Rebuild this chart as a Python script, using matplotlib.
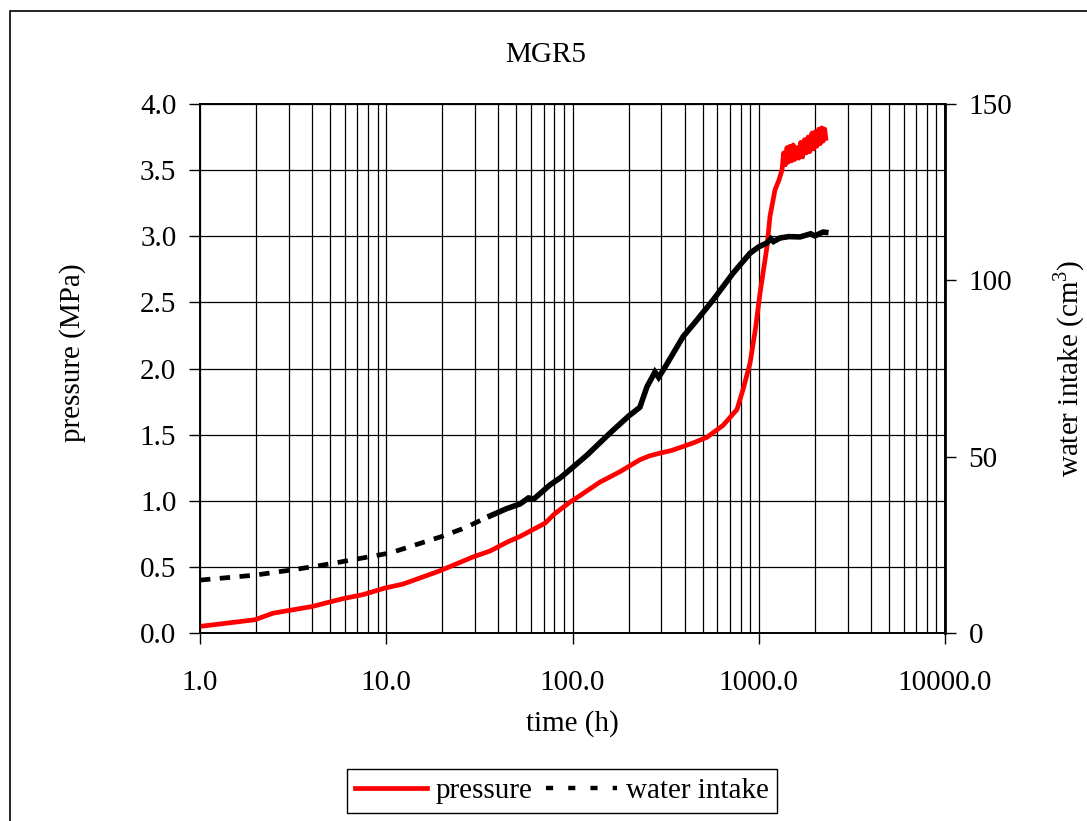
import matplotlib
matplotlib.use("Agg")
import matplotlib.pyplot as plt
from matplotlib.patches import Rectangle
from matplotlib.lines import Line2D
import numpy as np

plt.rcParams['font.family'] = ['Liberation Serif', 'DejaVu Serif']
plt.rcParams['mathtext.fontset'] = 'custom'
plt.rcParams['mathtext.rm'] = 'Liberation Serif'

# pressure record, time in hours
t_p = [1.0, 1.97, 2.47, 3.99, 5.86, 7.5, 9.85, 12.3, 19.4, 29.2, 36.1, 45.0, 52.3,
       61.0, 71.2, 80.0, 97.0, 110, 140, 180, 230, 260, 295, 340, 392, 450, 527, 643,
       764, 823, 898, 960, 1016, 1107, 1149, 1222, 1280, 1333, 1360, 1390, 1418,
       1440, 1470, 1500, 1530, 1560, 1600, 1640, 1680, 1720, 1760, 1800, 1840,
       1880, 1930, 1970, 2010, 2050, 2100, 2140, 2180, 2220, 2260, 2290]
p_mpa = [0.05, 0.10, 0.15, 0.20, 0.26, 0.29, 0.34, 0.37, 0.47, 0.575, 0.62, 0.69, 0.73,
         0.78, 0.83, 0.90, 0.99, 1.04, 1.14, 1.22, 1.31, 1.34, 1.36, 1.38, 1.41, 1.44,
         1.48, 1.57, 1.69, 1.84, 2.04, 2.30, 2.57, 2.92, 3.15, 3.35, 3.42, 3.50, 3.63,
         3.54, 3.67, 3.56, 3.68, 3.57, 3.69, 3.58, 3.67, 3.59, 3.71, 3.60, 3.73, 3.63,
         3.75, 3.64, 3.78, 3.66, 3.79, 3.68, 3.81, 3.70, 3.82, 3.72, 3.81, 3.74]

# water intake record
t_w = [1.0, 1.97, 3.32, 4.99, 7.5, 10.5, 19.4, 25.5, 29.2, 36.1, 44.0, 52.3, 58.0,
       62.0, 75.7, 86.0, 99.4, 120, 159, 200, 230, 251, 277, 290, 314, 392, 470,
       568, 727, 898, 1000, 1107, 1160, 1200, 1300, 1450, 1665, 1900, 2000, 2213, 2290]
w_cm3 = [15.0, 16.4, 18.1, 19.6, 21.3, 22.7, 27.2, 29.5, 30.9, 33.2, 35.2, 36.6, 38.3,
         38.0, 42.0, 44.0, 46.8, 50.5, 56.7, 61.5, 64.0, 69.8, 74.0, 72.5, 75.4, 84.0,
         89.0, 94.4, 102.0, 107.7, 109.5, 110.6, 111.8, 111.0, 112.0, 112.4, 112.3,
         113.2, 112.6, 113.7, 113.6]

x_ticks = [1, 10, 100, 1000, 10000]
x_labels = ['1.0', '10.0', '100.0', '1000.0', '10000.0']
p_ticks = [0.0, 0.5, 1.0, 1.5, 2.0, 2.5, 3.0, 3.5, 4.0]
w_ticks = [0, 50, 100, 150]

W, H = 1087, 821
fig = plt.figure(figsize=(W / 100, H / 100), dpi=100)
fig.patches.append(Rectangle((10 / W, -0.1), 1.2, 1 - 11 / H + 0.1,
                             transform=fig.transFigure, fill=False,
                             edgecolor='black', linewidth=1.2))

ax = fig.add_axes([200 / W, 1 - 633 / H, 745 / W, 529 / H])
ax2 = ax.twinx()

fs = 21
ax.set_xscale('log')
ax.set_xlim(1, 10000)
ax.set_ylim(0, 4)
ax.set_xticks(x_ticks)
ax.set_xticklabels(x_labels)
ax.set_yticks(p_ticks)
ax.set_yticklabels([f'{v:.1f}' for v in p_ticks])
ax.tick_params(axis='x', which='major', direction='out', length=8, width=1,
               labelsize=fs, pad=19)
ax.tick_params(axis='x', which='minor', length=0)
ax.tick_params(axis='y', direction='out', length=8, width=1, labelsize=fs, pad=9)
ax.grid(which='both', axis='x', color='black', linewidth=0.9)
ax.grid(which='major', axis='y', color='black', linewidth=0.9)
ax.set_axisbelow(True)

ax2.set_ylim(0, 150)
ax2.set_yticks(w_ticks)
ax2.tick_params(axis='y', direction='out', length=8, width=1, labelsize=fs, pad=9)

for a in (ax, ax2):
    for s in a.spines.values():
        s.set_linewidth(1.2)
ax2.spines['right'].set_linewidth(2)

l_p, = ax.plot(t_p, p_mpa, color='#ff0000', linewidth=3.4, solid_joinstyle='round')

# dashes read well on the sparse early stretch, later part is dense
t_w = np.array(t_w)
w_cm3 = np.array(w_cm3)
early = t_w <= 36.1
ax2.plot(t_w[early], w_cm3[early], color='black', linewidth=3.4, dashes=(2.2, 2.0))
ax2.plot(t_w[t_w >= 36.1], w_cm3[t_w >= 36.1], color='black', linewidth=4.0,
         solid_joinstyle='miter')

fig.text(546 / W, 1 - 55 / H, 'MGR5', ha='center', va='center', fontsize=fs)
fig.text(572 / W, 1 - 724 / H, 'time (h)', ha='center', va='center', fontsize=fs)
fig.text(73 / W, 1 - 353 / H, 'pressure (MPa)', ha='center', va='center',
         rotation=90, fontsize=fs)
fig.text(1069 / W, 1 - 368 / H, 'water intake (cm$^3$)', ha='center', va='center',
         rotation=90, fontsize=fs)

h_w = Line2D([], [], color='black', linewidth=3.2, dashes=(1.6, 3.4))
leg = fig.legend([l_p, h_w], ['pressure', 'water intake'], ncol=2, loc='center',
                 bbox_to_anchor=(562 / W, 1 - 791 / H), fontsize=fs,
                 frameon=True, fancybox=False, edgecolor='black', framealpha=1,
                 handlelength=2.45, handletextpad=0.3, columnspacing=0.45,
                 borderpad=0.3, borderaxespad=0)
leg.get_frame().set_linewidth(1)

fig.savefig('out.png', dpi=100)
